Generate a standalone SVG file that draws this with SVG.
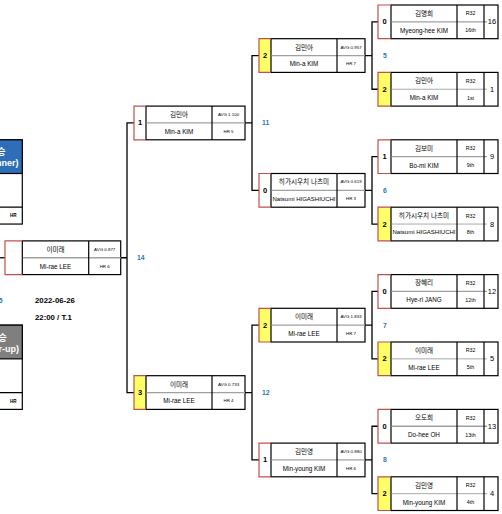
<svg xmlns="http://www.w3.org/2000/svg" width="502" height="514" viewBox="0 0 502 514">
<style>
text{font-family:"Liberation Sans","Noto Sans CJK KR",sans-serif;text-anchor:middle;dominant-baseline:central;fill:#000}
.bx{fill:#fff;stroke:#000;stroke-width:1.2}
.sc{stroke:#c0504d;stroke-width:1.2;fill:none}
.win{fill:#ffff66}
.los{fill:#fff}
.ml{stroke:#a0a0a0;stroke-width:1.3}
.mlw{stroke:#a0a0a0;stroke-width:0.9}
.dv{stroke:#000;stroke-width:1.2}
.kn{font-size:6.6px}
.en{font-size:6.3px}
.nl{font-size:6px}
.sm{font-size:5.3px}
.sd{font-size:7.5px}
.avg{font-size:4.4px}
.scr{font-size:7.5px;font-weight:bold}
.lbl{font-size:6.8px;font-weight:bold;fill:#2e75b6;text-anchor:start}
.conn{stroke:#000;stroke-width:1.3;fill:none}
.hd{font-size:9px;font-weight:bold;fill:#fff;text-anchor:end}
.hr{font-size:4.6px;font-weight:bold}
.dt{font-size:7.8px;font-weight:bold;text-anchor:start}
</style>

<g id="connectors">
<path class="conn" d="M378,21.85H372V89.25H378M365,55.55H372"/>
<path class="conn" d="M378,156.65H372V224.05H378M365,190.35H372"/>
<path class="conn" d="M378,291.45H372V358.85H378M365,325.15H372"/>
<path class="conn" d="M378,426.25H372V493.65H378M365,459.95H372"/>
<path class="conn" d="M259,55.55H252V190.35H259M245,122.95H252"/>
<path class="conn" d="M259,325.15H252V459.95H259M245,392.55H252"/>
<path class="conn" d="M134,122.95H127V392.55H134M120.7,257.75H127"/>
<path class="conn" d="M0,257.75H5"/>
<text class="lbl" x="383" y="55.55">5</text>
<text class="lbl" x="383" y="190.35">6</text>
<text class="lbl" x="383" y="325.15">7</text>
<text class="lbl" x="383" y="459.95">8</text>
<text class="lbl" x="262" y="122.95">11</text>
<text class="lbl" x="262" y="392.55">12</text>
<text class="lbl" x="137" y="257.75">14</text>
<text class="lbl" x="2.5" y="300.5" style="text-anchor:end">15</text>
</g>

<!-- Round 1 -->
<g id="r1-1" transform="translate(378,5)">
<rect class="los" width="13" height="33.7"/>
<rect class="bx" x="13" width="107" height="33.7"/>
<line class="ml" x1="13.6" y1="16.85" x2="109" y2="16.85"/>
<line class="dv" x1="79" y1="0" x2="79" y2="33.7"/>
<line class="dv" x1="106" y1="0" x2="106" y2="33.7"/>
<path class="sc" d="M13,0H0V33.7H13"/>
<text class="scr" x="6.5" y="16.85">0</text>
<text class="kn" x="46" y="8.4">김명희</text>
<text class="en" x="46" y="25.3">Myeong-hee KIM</text>
<text class="sm" x="92.5" y="8.4">R32</text>
<text class="sm" x="92.5" y="25.3">16th</text>
<text class="sd" x="114" y="16.85">16</text>
</g>
<g id="r1-2" transform="translate(378,72.4)">
<rect class="win" width="13" height="33.7"/>
<rect class="bx" x="13" width="107" height="33.7"/>
<line class="mlw" x1="13.6" y1="16.85" x2="109" y2="16.85"/>
<line class="dv" x1="79" y1="0" x2="79" y2="33.7"/>
<line class="dv" x1="106" y1="0" x2="106" y2="33.7"/>
<path class="sc" d="M13,0H0V33.7H13"/>
<text class="scr" x="6.5" y="16.85">2</text>
<text class="kn" x="46" y="8.4">김민아</text>
<text class="en" x="46" y="25.3">Min-a KIM</text>
<text class="sm" x="92.5" y="8.4">R32</text>
<text class="sm" x="92.5" y="25.3">1st</text>
<text class="sd" x="114" y="16.85">1</text>
</g>
<g id="r1-3" transform="translate(378,139.8)">
<rect class="los" width="13" height="33.7"/>
<rect class="bx" x="13" width="107" height="33.7"/>
<line class="ml" x1="13.6" y1="16.85" x2="109" y2="16.85"/>
<line class="dv" x1="79" y1="0" x2="79" y2="33.7"/>
<line class="dv" x1="106" y1="0" x2="106" y2="33.7"/>
<path class="sc" d="M13,0H0V33.7H13"/>
<text class="scr" x="6.5" y="16.85">1</text>
<text class="kn" x="46" y="8.4">김보미</text>
<text class="en" x="46" y="25.3">Bo-mi KIM</text>
<text class="sm" x="92.5" y="8.4">R32</text>
<text class="sm" x="92.5" y="25.3">9th</text>
<text class="sd" x="114" y="16.85">9</text>
</g>
<g id="r1-4" transform="translate(378,207.2)">
<rect class="win" width="13" height="33.7"/>
<rect class="bx" x="13" width="107" height="33.7"/>
<line class="mlw" x1="13.6" y1="16.85" x2="109" y2="16.85"/>
<line class="dv" x1="79" y1="0" x2="79" y2="33.7"/>
<line class="dv" x1="106" y1="0" x2="106" y2="33.7"/>
<path class="sc" d="M13,0H0V33.7H13"/>
<text class="scr" x="6.5" y="16.85">2</text>
<text class="kn" x="46" y="8.4">히가시우치 나츠미</text>
<text class="nl" x="46" y="25.3">Natsumi HIGASHIUCHI</text>
<text class="sm" x="92.5" y="8.4">R32</text>
<text class="sm" x="92.5" y="25.3">8th</text>
<text class="sd" x="114" y="16.85">8</text>
</g>
<g id="r1-5" transform="translate(378,274.6)">
<rect class="los" width="13" height="33.7"/>
<rect class="bx" x="13" width="107" height="33.7"/>
<line class="ml" x1="13.6" y1="16.85" x2="109" y2="16.85"/>
<line class="dv" x1="79" y1="0" x2="79" y2="33.7"/>
<line class="dv" x1="106" y1="0" x2="106" y2="33.7"/>
<path class="sc" d="M13,0H0V33.7H13"/>
<text class="scr" x="6.5" y="16.85">0</text>
<text class="kn" x="46" y="8.4">장혜리</text>
<text class="en" x="46" y="25.3">Hye-ri JANG</text>
<text class="sm" x="92.5" y="8.4">R32</text>
<text class="sm" x="92.5" y="25.3">12th</text>
<text class="sd" x="114" y="16.85">12</text>
</g>
<g id="r1-6" transform="translate(378,342)">
<rect class="win" width="13" height="33.7"/>
<rect class="bx" x="13" width="107" height="33.7"/>
<line class="mlw" x1="13.6" y1="16.85" x2="109" y2="16.85"/>
<line class="dv" x1="79" y1="0" x2="79" y2="33.7"/>
<line class="dv" x1="106" y1="0" x2="106" y2="33.7"/>
<path class="sc" d="M13,0H0V33.7H13"/>
<text class="scr" x="6.5" y="16.85">2</text>
<text class="kn" x="46" y="8.4">이미래</text>
<text class="en" x="46" y="25.3">Mi-rae LEE</text>
<text class="sm" x="92.5" y="8.4">R32</text>
<text class="sm" x="92.5" y="25.3">5th</text>
<text class="sd" x="114" y="16.85">5</text>
</g>
<g id="r1-7" transform="translate(378,409.4)">
<rect class="los" width="13" height="33.7"/>
<rect class="bx" x="13" width="107" height="33.7"/>
<line class="ml" x1="13.6" y1="16.85" x2="109" y2="16.85"/>
<line class="dv" x1="79" y1="0" x2="79" y2="33.7"/>
<line class="dv" x1="106" y1="0" x2="106" y2="33.7"/>
<path class="sc" d="M13,0H0V33.7H13"/>
<text class="scr" x="6.5" y="16.85">0</text>
<text class="kn" x="46" y="8.4">오도희</text>
<text class="en" x="46" y="25.3">Do-hee OH</text>
<text class="sm" x="92.5" y="8.4">R32</text>
<text class="sm" x="92.5" y="25.3">13th</text>
<text class="sd" x="114" y="16.85">13</text>
</g>
<g id="r1-8" transform="translate(378,476.8)">
<rect class="win" width="13" height="33.7"/>
<rect class="bx" x="13" width="107" height="33.7"/>
<line class="mlw" x1="13.6" y1="16.85" x2="109" y2="16.85"/>
<line class="dv" x1="79" y1="0" x2="79" y2="33.7"/>
<line class="dv" x1="106" y1="0" x2="106" y2="33.7"/>
<path class="sc" d="M13,0H0V33.7H13"/>
<text class="scr" x="6.5" y="16.85">2</text>
<text class="kn" x="46" y="8.4">김민영</text>
<text class="en" x="46" y="25.3">Min-young KIM</text>
<text class="sm" x="92.5" y="8.4">R32</text>
<text class="sm" x="92.5" y="25.3">4th</text>
<text class="sd" x="114" y="16.85">4</text>
</g>

<!-- Round 2 -->
<g id="r2-1" transform="translate(259,38.7)">
<rect class="win" width="12" height="33.7"/>
<rect class="bx" x="12" width="94" height="33.7"/>
<line class="ml" x1="12.6" y1="16.85" x2="106" y2="16.85"/>
<line class="dv" x1="78" y1="0" x2="78" y2="33.7"/>
<path class="sc" d="M12,0H0V33.7H12"/>
<text class="scr" x="6" y="16.85">2</text>
<text class="kn" x="45" y="8.4">김민아</text>
<text class="en" x="45" y="25.3">Min-a KIM</text>
<text class="avg" x="92" y="8.4">AVG 0.957</text>
<text class="avg" x="92" y="25.3">HR 7</text>
</g>
<g id="r2-2" transform="translate(259,173.5)">
<rect class="los" width="12" height="33.7"/>
<rect class="bx" x="12" width="94" height="33.7"/>
<line class="ml" x1="12.6" y1="16.85" x2="106" y2="16.85"/>
<line class="dv" x1="78" y1="0" x2="78" y2="33.7"/>
<path class="sc" d="M12,0H0V33.7H12"/>
<text class="scr" x="6" y="16.85">0</text>
<text class="kn" x="45" y="8.4">히가시우치 나츠미</text>
<text class="nl" x="45" y="25.3">Natsumi HIGASHIUCHI</text>
<text class="avg" x="92" y="8.4">AVG 0.619</text>
<text class="avg" x="92" y="25.3">HR 3</text>
</g>
<g id="r2-3" transform="translate(259,308.3)">
<rect class="win" width="12" height="33.7"/>
<rect class="bx" x="12" width="94" height="33.7"/>
<line class="ml" x1="12.6" y1="16.85" x2="106" y2="16.85"/>
<line class="dv" x1="78" y1="0" x2="78" y2="33.7"/>
<path class="sc" d="M12,0H0V33.7H12"/>
<text class="scr" x="6" y="16.85">2</text>
<text class="kn" x="45" y="8.4">이미래</text>
<text class="en" x="45" y="25.3">Mi-rae LEE</text>
<text class="avg" x="92" y="8.4">AVG 1.833</text>
<text class="avg" x="92" y="25.3">HR 7</text>
</g>
<g id="r2-4" transform="translate(259,443.1)">
<rect class="los" width="12" height="33.7"/>
<rect class="bx" x="12" width="94" height="33.7"/>
<line class="ml" x1="12.6" y1="16.85" x2="106" y2="16.85"/>
<line class="dv" x1="78" y1="0" x2="78" y2="33.7"/>
<path class="sc" d="M12,0H0V33.7H12"/>
<text class="scr" x="6" y="16.85">1</text>
<text class="kn" x="45" y="8.4">김민영</text>
<text class="en" x="45" y="25.3">Min-young KIM</text>
<text class="avg" x="92" y="8.4">AVG 0.880</text>
<text class="avg" x="92" y="25.3">HR 6</text>
</g>

<!-- Round 3 -->
<g id="r3-1" transform="translate(134,106.1)">
<rect class="los" width="12" height="33.7"/>
<rect class="bx" x="12" width="99" height="33.7"/>
<line class="ml" x1="12.6" y1="16.85" x2="111" y2="16.85"/>
<line class="dv" x1="78" y1="0" x2="78" y2="33.7"/>
<path class="sc" d="M12,0H0V33.7H12"/>
<text class="scr" x="6" y="16.85">1</text>
<text class="kn" x="45" y="8.4">김민아</text>
<text class="en" x="45" y="25.3">Min-a KIM</text>
<text class="avg" x="94.5" y="8.4">AVG 1.100</text>
<text class="avg" x="94.5" y="25.3">HR 5</text>
</g>
<g id="r3-2" transform="translate(134,375.7)">
<rect class="win" width="12" height="33.7"/>
<rect class="bx" x="12" width="99" height="33.7"/>
<line class="ml" x1="12.6" y1="16.85" x2="111" y2="16.85"/>
<line class="dv" x1="78" y1="0" x2="78" y2="33.7"/>
<path class="sc" d="M12,0H0V33.7H12"/>
<text class="scr" x="6" y="16.85">3</text>
<text class="kn" x="45" y="8.4">이미래</text>
<text class="en" x="45" y="25.3">Mi-rae LEE</text>
<text class="avg" x="94.5" y="8.4">AVG 0.733</text>
<text class="avg" x="94.5" y="25.3">HR 4</text>
</g>

<!-- Round 4 -->
<g id="r4-1" transform="translate(5,240.9)">
<rect class="los" width="17.3" height="33.7"/>
<rect class="bx" x="17.3" width="98.4" height="33.7"/>
<line class="ml" x1="17.9" y1="16.85" x2="115.7" y2="16.85"/>
<line class="dv" x1="83.7" y1="0" x2="83.7" y2="33.7"/>
<path class="sc" d="M17.3,0H0V33.7H17.3"/>
<text class="kn" x="50.5" y="8.4">이미래</text>
<text class="en" x="50.5" y="25.3">Mi-rae LEE</text>
<text class="avg" x="99.7" y="8.4">AVG 0.877</text>
<text class="avg" x="99.7" y="25.3">HR 6</text>
</g>

<!-- Champion boxes -->
<g id="winner">
<rect class="bx" x="-30" y="139.8" width="52.3" height="84.25"/>
<rect x="-30" y="139.8" width="52.3" height="33.7" fill="#2e6eb8" stroke="#000" stroke-width="1.2"/>
<line class="dv" x1="-30" y1="207.2" x2="22.3" y2="207.2"/>
<text class="hd" x="5.5" y="152">우승</text>
<text class="hd" x="18.5" y="163">(Winner)</text>
<text class="hr" x="13.3" y="215.6">HR</text>
</g>
<g id="runner-up">
<rect class="bx" x="-30" y="325.15" width="52.3" height="84.25"/>
<rect x="-30" y="325.15" width="52.3" height="33.7" fill="#7f7f7f" stroke="#000" stroke-width="1.2"/>
<line class="dv" x1="-30" y1="392.55" x2="22.3" y2="392.55"/>
<text class="hd" x="6.7" y="338">준우승</text>
<text class="hd" x="19" y="348.5">(Runner-up)</text>
<text class="hr" x="13.3" y="401">HR</text>
</g>

<g id="info">
<text class="dt" x="35" y="300.5">2022-06-26</text>
<text class="dt" x="35" y="317">22:00 / T.1</text>
</g>
</svg>
